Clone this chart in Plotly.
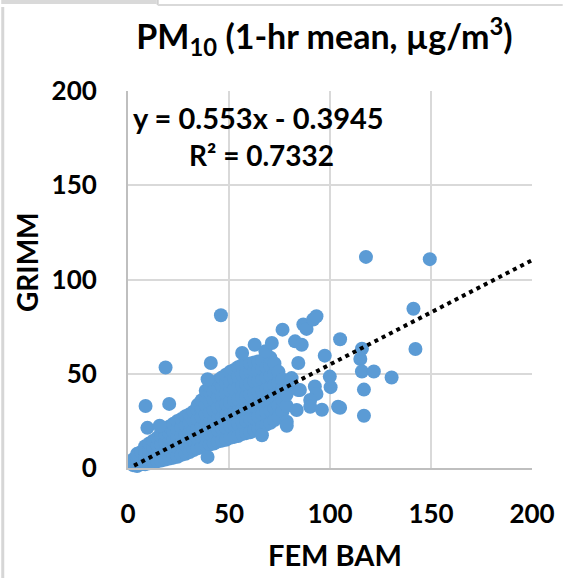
import plotly.graph_objects as go

# ---- data ----
band_x = [2.5, 4.5, 6.5, 8.5, 10.5, 12.5, 14.5, 16.5, 18.5, 20.5, 22.5, 24.5,
          26.5, 28.5, 30.5, 32.5, 34.5, 36.5, 38.5, 40.5, 42.5, 44.5, 46.5,
          48.5, 50.5, 52.5, 54.5, 56.5, 58.5, 60.5, 62.5, 64.5, 66.5, 68.5,
          70.5, 72.5, 74.5, 76.5, 78.5]
band_y = [
    [1.5, 4.5],
    [1, 4, 7.5],
    [2, 5, 8.5],
    [2, 5.5, 9, 11.5],
    [2.5, 6, 10, 13],
    [3, 7, 11, 14.5],
    [3.5, 7.5, 12, 16],
    [4, 8, 12.5, 17, 19],
    [4.5, 9, 13.5, 18, 20.5],
    [5, 9.5, 14, 18.5, 22],
    [5.5, 10.5, 15, 19.5, 23.5],
    [6, 11, 16, 20.5, 25],
    [7, 12, 17, 21.5, 26],
    [7.5, 12.5, 18, 22.5, 27.5],
    [8.5, 13.5, 19, 24, 28.5],
    [9.5, 14.5, 20, 25, 30],
    [10.5, 15.5, 21, 26, 31, 33.5],
    [11, 16.5, 22, 27, 32, 36],
    [12, 17, 23, 28.5, 33.5, 38, 41],
    [12.5, 18, 24, 29.5, 35, 40, 43.5],
    [13, 19, 25, 30.5, 36, 41, 45],
    [14, 20, 26, 32, 37.5, 42.5, 46.5],
    [14.5, 21, 27, 33, 38.5, 43.5, 48],
    [15, 21.5, 28, 34, 39.5, 45, 49.5],
    [16, 22.5, 28.5, 35, 41, 46, 51],
    [16.5, 23, 29.5, 36, 42, 47.5, 52],
    [17, 23.5, 30, 36.5, 43, 48.5, 53.5],
    [18, 24.5, 31, 37.5, 43.5, 49.5, 54.5],
    [18.5, 25, 31.5, 38, 44.5, 50, 55],
    [19, 26, 32.5, 39, 45, 51, 55.5],
    [20, 26.5, 33, 39.5, 46, 51.5, 56],
    [21, 27.5, 34, 40.5, 46.5, 52, 56.5],
    [22, 28.5, 35, 41, 47, 52.5, 57],
    [23, 29.5, 35.5, 42, 48, 53.5],
    [24, 30.5, 36.5, 43, 49, 54.5, 58.5],
    [25.5, 31.5, 38, 44, 50, 55.5],
    [27, 33, 39.5, 45.5, 51],
    [30, 36, 42, 47],
    [33, 39, 44],
]

outlier_bam = [41, 39.4, 46, 18.6, 8.7, 20.4, 9.6, 15.7, 39.4, 56.5, 62.7, 68,
               71.2, 76.5, 82.7, 86, 86.8, 88.4, 91.7, 93.3, 84.3, 97.4, 99.9,
               100.3, 81, 84.3, 92.5, 93.3, 90.2, 90.2, 96, 83.5, 78.6, 78.6,
               85.1, 104, 105, 105, 115, 115.8, 115.8, 121.7, 116.8, 116.8,
               130.5, 141.3, 142.3, 117.8, 149.4, 66.3]
outlier_grimm = [55.7, 47.1, 81, 53.3, 32.9, 34, 21.3, 22.4, 5.9, 61, 65.4, 61.9,
                 66.3, 73.4, 67.2, 65.4, 76.1, 73.8, 78.8, 80.5, 55.7, 59.6, 48.5,
                 42.9, 47.7, 41.4, 43.2, 39.3, 36.1, 32.5, 30.9, 30.8, 24.5, 22.4,
                 41.4, 32.5, 68.3, 32, 57.8, 63.3, 51.2, 51.2, 41.6, 27.7,
                 48, 84.5, 63.1, 112, 110.8, 17.4]

trend_slope = 0.553
trend_intercept = -0.3945
trend_x = [3, 200]

tick_vals = [0, 50, 100, 150, 200]
tick_text = ["0", "50", "100", "150", "200"]

# ---- build series ----
fem_bam = []
grimm = []
for xv, ys in zip(band_x, band_y):
    for yv in ys:
        fem_bam.append(xv)
        grimm.append(yv)
fem_bam += outlier_bam
grimm += outlier_grimm

trend_y = [trend_slope * v + trend_intercept for v in trend_x]

FONT = "Lato, 'Open Sans', sans-serif"
BLUE = "#5B9BD5"

fig = go.Figure()
fig.add_trace(go.Scatter(
    x=fem_bam, y=grimm, mode="markers",
    marker=dict(color=BLUE, size=14, line=dict(width=0)),
    hoverinfo="skip", showlegend=False, cliponaxis=False,
))
fig.add_trace(go.Scatter(
    x=trend_x, y=trend_y, mode="lines",
    line=dict(color="black", width=4, dash="4px,4.2px"),
    hoverinfo="skip", showlegend=False,
))

axis_common = dict(
    range=[0, 200], tickvals=tick_vals, ticktext=tick_text,
    showgrid=True, gridcolor="#D9D9D9", gridwidth=2,
    zeroline=False, showline=True, linecolor="#BFBFBF", linewidth=2,
    ticks="", tickfont=dict(family=FONT, size=26, color="black", weight="bold"),
    fixedrange=True,
)

fig.update_layout(
    width=567, height=578,
    margin=dict(l=128, r=31, t=91, b=110),
    paper_bgcolor="white", plot_bgcolor="white",
    font=dict(family=FONT, color="black"),
    xaxis=dict(**axis_common, ticklabelstandoff=22),
    yaxis=dict(**axis_common, ticklabelstandoff=24),
    title=dict(
        text="<b>PM<sub>10</sub> (1-hr mean, µg/m<sup>3</sup>)</b>",
        x=324.5 / 567, xanchor="center", xref="container",
        y=1 - 37 / 578, yanchor="middle", yref="container",
        font=dict(family=FONT, size=34, color="black"),
    ),
    annotations=[
        dict(text="<b>y = 0.553x - 0.3945</b>", xref="paper", yref="paper",
             x=(260 - 128) / 408, y=(468 - 118) / 377, showarrow=False,
             xanchor="center", yanchor="middle",
             font=dict(family=FONT, size=29, color="black")),
        dict(text="<b>R² = 0.7332</b>", xref="paper", yref="paper",
             x=(263 - 128) / 408, y=(468 - 155) / 377, showarrow=False,
             xanchor="center", yanchor="middle",
             font=dict(family=FONT, size=28, color="black")),
        dict(text="<b>FEM BAM</b>", xref="paper", yref="paper",
             x=(337 - 128) / 408, y=(468 - 554) / 377, showarrow=False,
             xanchor="center", yanchor="middle",
             font=dict(family=FONT, size=29, color="black")),
        dict(text="<b>GRIMM</b>", xref="paper", yref="paper",
             x=(26 - 128) / 408, y=(468 - 262) / 377, showarrow=False,
             textangle=-90, xanchor="center", yanchor="middle",
             font=dict(family=FONT, size=28, color="black")),
    ],
    shapes=[
        # spreadsheet cell borders around the chart picture
        dict(type="rect", xref="paper", yref="paper",
             x0=(0 - 128) / 408, x1=(157 - 128) / 408,
             y0=(468 - 0) / 377, y1=(468 - 4) / 377,
             fillcolor="#D9D9D9", line=dict(width=0), layer="below"),
        dict(type="line", xref="paper", yref="paper",
             x0=(158 - 128) / 408, x1=(158 - 128) / 408,
             y0=(468 - 0) / 377, y1=(468 - 5) / 377,
             line=dict(color="#D0D0D0", width=2)),
        dict(type="line", xref="paper", yref="paper",
             x0=(158 - 128) / 408, x1=(567 - 128) / 408,
             y0=(468 - 5) / 377, y1=(468 - 5) / 377,
             line=dict(color="#D9D9D9", width=2)),
        dict(type="line", xref="paper", yref="paper",
             x0=(1.5 - 128) / 408, x1=(1.5 - 128) / 408,
             y0=(468 - 7) / 377, y1=(468 - 578) / 377,
             line=dict(color="#D6D6D6", width=3)),
    ],
)

fig.write_html("out.html",
               config={"displayModeBar": False, "staticPlot": True},
               post_script="document.body.style.margin='0px';"
                           "document.body.style.overflow='hidden';")
